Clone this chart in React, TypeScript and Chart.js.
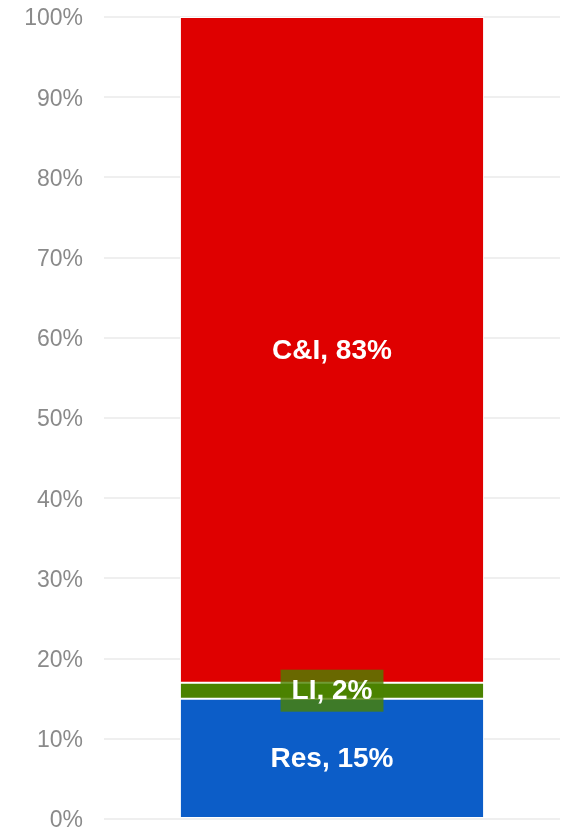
import React, { useEffect, useRef } from "react";
import { Chart, registerables } from "chart.js";

Chart.register(...registerables);

const categories = ["Share"];
const seriesNames = ["Res", "LI", "C&I"];
const resValues = [15];
const liValues = [2];
const ciValues = [83];
const seriesColors = ["#0c5dc8", "#4b8200", "#df0000"];
const labelBoxColors = [null, "rgba(75,130,0,0.8)", null];
const yTicks = [0, 10, 20, 30, 40, 50, 60, 70, 80, 90, 100];

const segmentLabels = {
  id: "segmentLabels",
  afterDatasetsDraw(chart: any) {
    const ctx = chart.ctx;
    ctx.save();
    ctx.font = "bold 28px 'Liberation Sans', Arial, sans-serif";
    ctx.textAlign = "center";
    ctx.textBaseline = "middle";
    chart.data.datasets.forEach((ds: any, i: number) => {
      const meta = chart.getDatasetMeta(i);
      meta.data.forEach((bar: any, j: number) => {
        const v = ds.data[j];
        const text = `${seriesNames[i]}, ${v}%`;
        const { x, y, base } = bar.getProps(["x", "y", "base"], true);
        const cy = (y + base) / 2;
        const box = labelBoxColors[i];
        if (box) {
          const w = ctx.measureText(text).width + 22;
          const h = 42;
          ctx.fillStyle = box;
          ctx.fillRect(x - w / 2, cy - h / 2, w, h);
        }
        ctx.fillStyle = "#ffffff";
        ctx.fillText(text, x, cy + 1);
      });
    });
    ctx.restore();
  },
};

export default function App() {
  const ref = useRef<HTMLCanvasElement>(null);
  useEffect(() => {
    if (!ref.current) return;
    const values = [resValues, liValues, ciValues];
    const chart = new Chart(ref.current, {
      type: "bar",
      data: {
        labels: categories,
        datasets: seriesNames.map((name, i) => ({
          label: name,
          data: values[i],
          backgroundColor: seriesColors[i],
          borderColor: "#ffffff",
          borderWidth: 1,
          borderSkipped: false,
          categoryPercentage: 1,
          barPercentage: 0.667,
        })),
      },
      options: {
        animation: false,
        responsive: true,
        maintainAspectRatio: false,
        layout: { padding: { top: 17, bottom: 11, left: 0, right: 3 } },
        plugins: {
          legend: { display: false },
          tooltip: { enabled: false },
        },
        scales: {
          x: { stacked: true, display: false },
          y: {
            stacked: true,
            min: 0,
            max: 100,
            afterBuildTicks: (scale: any) => {
              scale.ticks = yTicks.map((v) => ({ value: v }));
            },
            afterFit: (scale: any) => {
              scale.width = 104;
              scale.paddingTop = 0;
              scale.paddingBottom = 0;
            },
            border: { display: false },
            grid: { color: "#efefef", lineWidth: 2, drawTicks: false },
            ticks: {
              padding: 21,
              labelOffset: 2,
              color: "#8a8a8a",
              font: { family: "'Liberation Sans', Arial, sans-serif", size: 23 },
              callback: (v: any) => `${v}%`,
            },
          },
        },
      },
      plugins: [segmentLabels],
    });
    return () => chart.destroy();
  }, []);
  return (
    <div style={{ position: "fixed", left: 0, top: 0, width: 563, height: 830 }}>
      <canvas ref={ref} />
    </div>
  );
}
